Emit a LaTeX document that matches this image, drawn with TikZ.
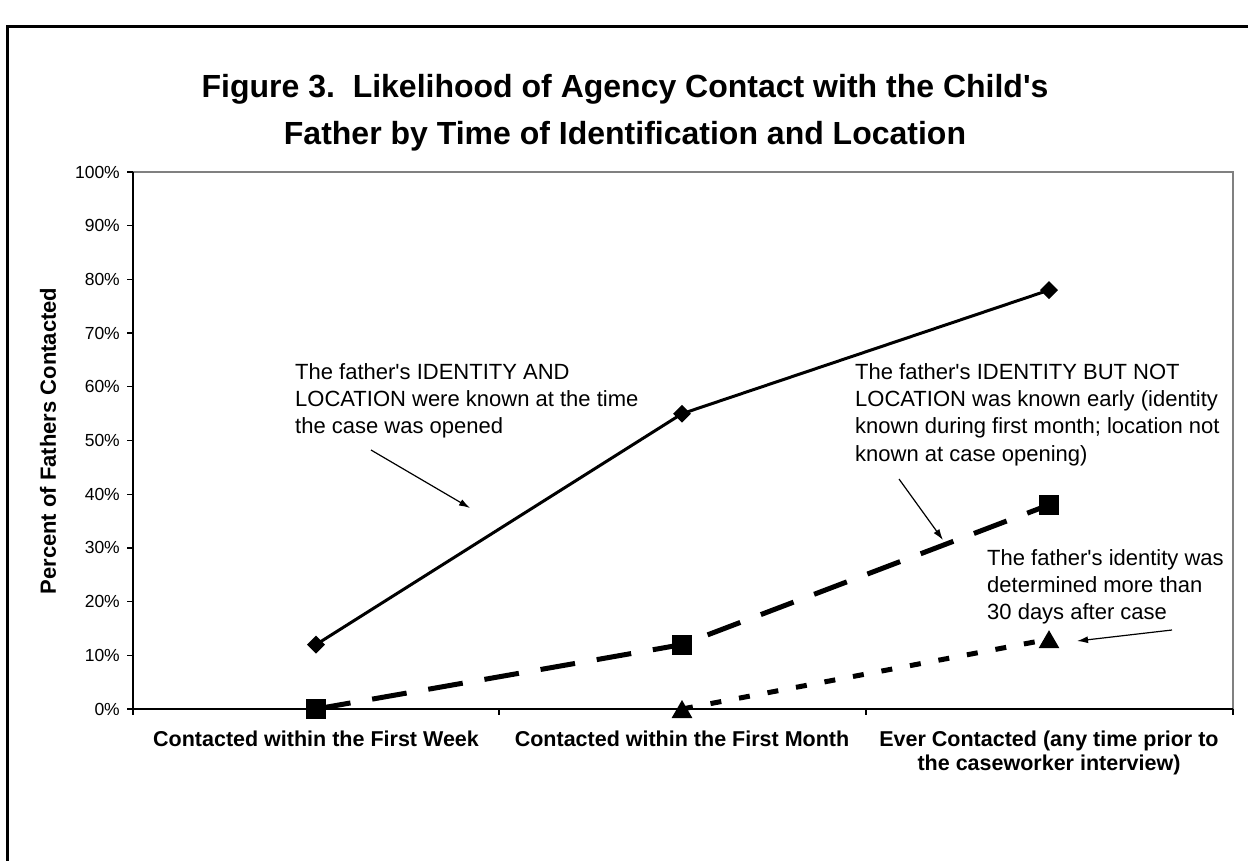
\documentclass[tikz,border=0pt]{standalone}
\usepackage{fontspec}
\setmainfont{Liberation Sans}
\usetikzlibrary{shapes.geometric,arrows.meta}
\newcommand{\apo}{\textquotesingle}
\begin{document}
\begin{tikzpicture}[x=1pt,y=-1pt,
  diamondmark/.style={diamond, fill=black, inner sep=0pt, minimum size=18pt},
  squaremark/.style={rectangle, fill=black, inner sep=0pt, minimum size=20pt},
  trianglemark/.style={regular polygon, regular polygon sides=3, fill=black, inner sep=0pt, minimum size=24pt},
  seriesA/.style={line width=3pt},
  seriesB/.style={line width=5pt, dash pattern=on 35pt off 22pt},
  seriesC/.style={line width=5pt, dash pattern=on 11pt off 18pt},
  note/.style={align=left, inner sep=0pt, anchor=north west, font=\fontsize{22}{27.3}\selectfont},
  notearrow/.style={line width=1.2pt, -{Latex[length=11pt,width=7pt]}},
  cat/.style={align=center, inner sep=0pt, anchor=north, font=\fontsize{21.5}{24}\selectfont\bfseries},
  ylab/.style={inner sep=0pt, anchor=east, font=\fontsize{17.5}{20}\selectfont},
  axisline/.style={line width=1.3pt},
  plotborder/.style={line width=1.6pt, draw=gray}]
\useasboundingbox (0,0) rectangle (1248,860);
\fill[white] (0,0) rectangle (1248,860);
\clip (0,0) rectangle (1248,860);
% outer frame
\draw[line width=3pt] (7,880) -- (7,26) -- (1270,26);
% title
\node[align=center, inner sep=0pt, anchor=north, font=\fontsize{32}{47}\selectfont\bfseries] (title) at (625,74)
  {Figure 3.\ \ Likelihood of Agency Contact with the Child\apo s\\Father by Time of Identification and Location};
% plot area border
\draw[plotborder] (133,172) -- (1233,172) -- (1233,709);
% axes
\draw[axisline] (133,172) -- (133,709) -- (1233,709);
\foreach \p in {0,10,...,100} {
  \pgfmathsetmacro\yy{709-5.37*\p}
  \draw[axisline] (127,\yy) -- (133,\yy);
  \node[ylab] (yl\p) at (120,\yy) {\p\%};
}
\foreach \xx in {133,499,866,1233} { \draw[axisline] (\xx,709) -- (\xx,715); }
% axis title
\node[rotate=90, inner sep=0pt, font=\fontsize{22}{24}\selectfont\bfseries] (ytitle) at (48,441) {Percent of Fathers Contacted};
% category labels
\node[cat] (c1) at (316,731) {Contacted within the First Week};
\node[cat] (c2) at (682,731) {Contacted within the First Month};
\node[cat] (c3) at (1049,731) {Ever Contacted (any time prior to\\the caseworker interview)};
% data points
\coordinate (d1) at (316,644.6);
\coordinate (d2) at (682,413.7);
\coordinate (d3) at (1049,290.1);
\coordinate (s1) at (316,709);
\coordinate (s2) at (682,644.6);
\coordinate (s3) at (1049,504.9);
\coordinate (t1) at (682,709);
\coordinate (t2) at (1049,639.2);
% series lines
\draw[seriesA] (d1) -- (d2) -- (d3);
\draw[seriesB] (s1) -- (s2) -- (s3);
\draw[seriesC] (t1) -- (t2);
% markers
\foreach \m in {d1,d2,d3} { \node[diamondmark] (m\m) at (\m) {}; }
\foreach \m in {s1,s2,s3} { \node[squaremark] (m\m) at (\m) {}; }
\foreach \m in {t1,t2} { \node[trianglemark] (m\m) at ([yshift=-3pt]\m) {}; }
% annotations
\node[note] (n1) at (295,363) {The father\apo s IDENTITY AND\\LOCATION were known at the time\\the case was opened};
\node[note] (n2) at (855,363) {The father\apo s IDENTITY BUT NOT\\LOCATION was known early (identity\\known during first month; location not\\known at case opening)};
\node[note] (n3) at (987,549) {The father\apo s identity was\\determined more than\\30 days after case};
\coordinate (a1s) at (371,450);
\coordinate (a1e) at (470,508);
\coordinate (a2s) at (899,479);
\coordinate (a2e) at (943,540);
\coordinate (a3s) at (1172,630);
\coordinate (a3e) at (1077,641);
\draw[notearrow] (a1s) -- (a1e);
\draw[notearrow] (a2s) -- (a2e);
\draw[notearrow] (a3s) -- (a3e);
\end{tikzpicture}
\end{document}
